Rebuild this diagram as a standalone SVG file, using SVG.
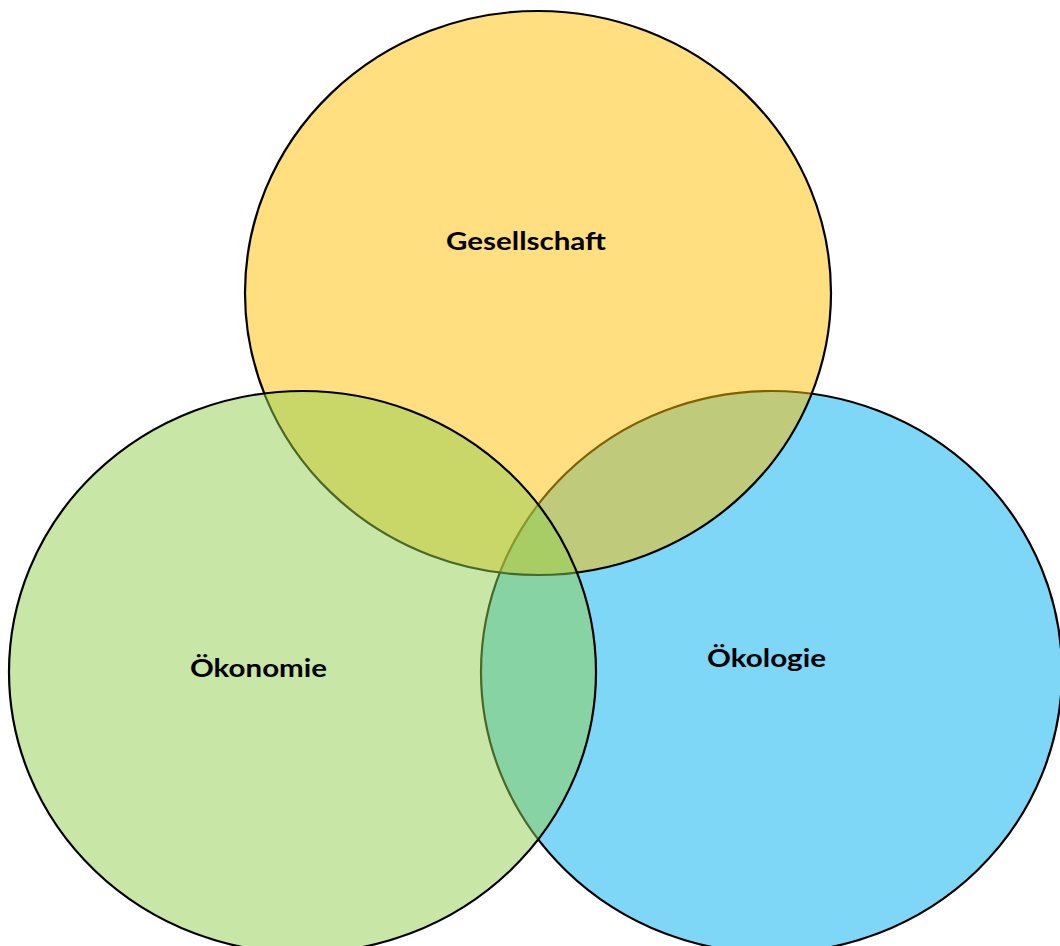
<svg xmlns="http://www.w3.org/2000/svg" width="1060" height="946" viewBox="0 0 1060 946">
<style>
.c{stroke:#000;stroke-width:2.2;fill-opacity:0.5}
.t{font-family:Lato,"Open Sans","Liberation Sans",sans-serif;font-weight:bold;font-size:25px;fill:#000;text-anchor:middle}
</style>
<rect width="1060" height="946" fill="#fff"/>
<g id="oekologie">
<ellipse class="c" cx="771.5" cy="672" rx="290.5" ry="281" fill="#00B0F0"/>
</g>
<g id="gesellschaft">
<ellipse class="c" cx="538" cy="293" rx="293" ry="282" fill="#FFC000"/>
</g>
<g id="oekonomie">
<ellipse class="c" cx="302.5" cy="672" rx="293.5" ry="281" fill="#92D050"/>
</g>
<g id="labels">
<text class="t" x="526" y="250" textLength="160" lengthAdjust="spacingAndGlyphs">Gesellschaft</text>
<text class="t" x="258.5" y="677" textLength="137" lengthAdjust="spacingAndGlyphs">Ökonomie</text>
<text class="t" x="766.5" y="667" textLength="119" lengthAdjust="spacingAndGlyphs">Ökologie</text>
</g>
<g id="connectors"/>
</svg>
